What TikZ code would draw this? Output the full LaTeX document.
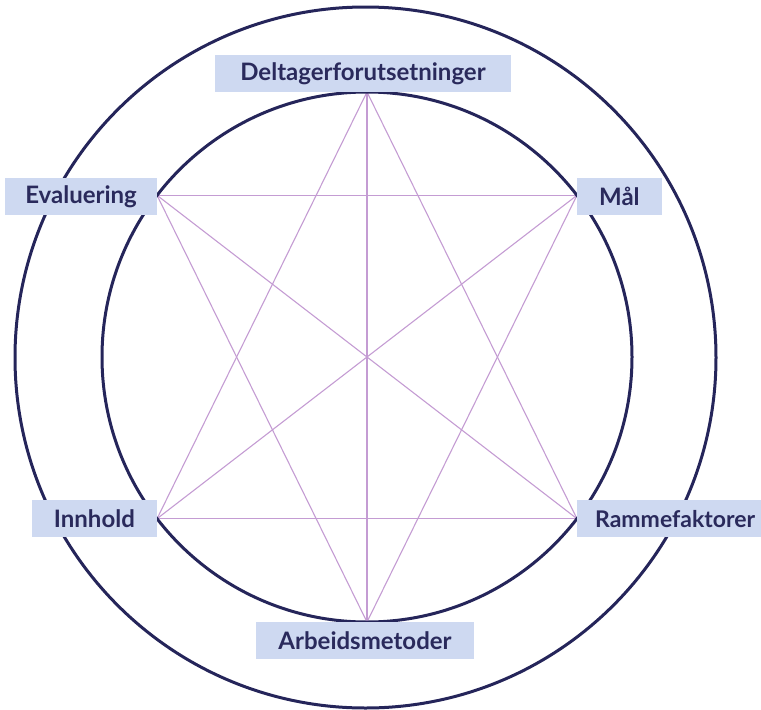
\documentclass[tikz,border=0pt]{standalone}
\usepackage{fontspec}
\setmainfont{Lato}
\usetikzlibrary{calc}
\definecolor{ringcol}{HTML}{25255A}
\definecolor{starcol}{HTML}{C49CD3}
\definecolor{boxfill}{HTML}{CED9F1}
\definecolor{boxtext}{HTML}{2A2A5C}
\tikzset{
  ring/.style={draw=ringcol, line width=3pt},
  starline/.style={draw=starcol, line width=1.1pt},
  label box/.style={fill=boxfill, text=boxtext, font=\fontsize{24}{28}\selectfont\bfseries,
    minimum height=37pt, inner xsep=22pt, inner ysep=0pt}
}
\begin{document}
\begin{tikzpicture}[x=1pt,y=-1pt]
\useasboundingbox (0,0) rectangle (761,710);
\coordinate (c) at (367,357);
\coordinate (co) at (365.5,357.5);
\coordinate (v1) at ($(c)+(90:265pt)$);
\coordinate (v2) at ($(c)+(37.6:265pt)$);
\coordinate (v3) at ($(c)+(-37.6:265pt)$);
\coordinate (v4) at ($(c)+(-90:265pt)$);
\coordinate (v5) at ($(c)+(217.6:265pt)$);
\coordinate (v6) at ($(c)+(142.4:265pt)$);
% star lines
\draw[starline] (v1) -- (v3);
\draw[starline] (v1) -- (v4);
\draw[starline] (v1) -- (v5);
\draw[starline] (v2) -- (v4);
\draw[starline] (v2) -- (v5);
\draw[starline] (v2) -- (v6);
\draw[starline] (v3) -- (v5);
\draw[starline] (v3) -- (v6);
\draw[starline] (v4) -- (v6);
% rings
\draw[ring] (co) circle[radius=350.5pt];
\draw[ring] (c) circle[radius=265pt];
% labels
\node[label box, anchor=south, xshift=-4pt, inner xsep=25pt] (dt) at (v1) {Deltagerforutsetninger};
\node[label box, anchor=west, yshift=-1.5pt] (ml) at (v2) {Mål};
\node[label box, anchor=west, inner xsep=18pt, font=\fontsize{23}{27}\selectfont\bfseries] (rf) at (v3) {Rammefaktorer};
\node[label box, anchor=north, xshift=-2pt] (am) at (v4) {Arbeidsmetoder};
\node[label box, anchor=east] (ih) at (v5) {Innhold};
\node[label box, anchor=east, yshift=-1.5pt, inner xsep=20pt] (ev) at (v6) {Evaluering};
\end{tikzpicture}
\end{document}
